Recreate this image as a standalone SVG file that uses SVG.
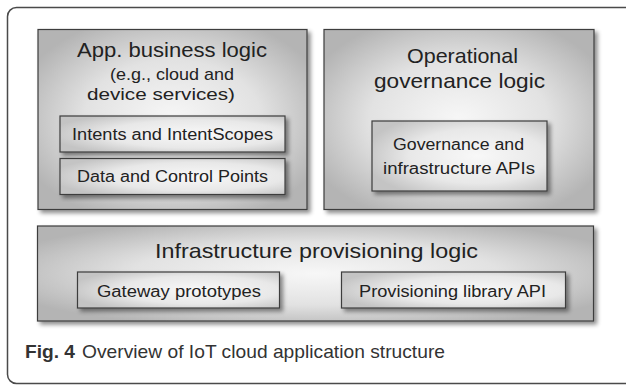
<svg xmlns="http://www.w3.org/2000/svg" width="626" height="385" viewBox="0 0 626 385">
<style>
  .frame{fill:#ffffff;stroke:#4a4a4a;stroke-width:1.5}
  .outer{fill:url(#gOuter);stroke:#3c3c3c;stroke-width:1.2;filter:url(#sh)}
  .inner{fill:url(#gInner);stroke:#3c3c3c;stroke-width:1.2;filter:url(#sh)}
  text{font-family:"Liberation Sans",Arial,sans-serif;fill:#222222}
  .t1{font-size:21px}
  .t2{font-size:17px}
  .t3{font-size:16px}
  .cap{font-family:"Liberation Sans",Arial,sans-serif;font-size:19px;fill:#333333}
</style>
<defs>
  <radialGradient id="gOuter" cx="0.5" cy="0.5" r="0.6">
    <stop offset="0" stop-color="#f7f7f7"/>
    <stop offset="0.55" stop-color="#e2e2e2"/>
    <stop offset="1" stop-color="#b4b4b4"/>
  </radialGradient>
  <radialGradient id="gInner" cx="0.6" cy="0.5" r="0.65">
    <stop offset="0" stop-color="#f8f8f8"/>
    <stop offset="0.6" stop-color="#e8e8e8"/>
    <stop offset="1" stop-color="#c4c4c4"/>
  </radialGradient>
  <filter id="sh" x="-10%" y="-10%" width="125%" height="130%">
    <feDropShadow dx="3" dy="3" stdDeviation="2" flood-color="#000000" flood-opacity="0.45"/>
  </filter>
</defs>
<rect class="frame" x="7.5" y="7.5" width="700" height="376" rx="9"/>
<g id="connectors"></g>
<g id="app">
  <rect class="outer" x="38" y="29.5" width="269" height="180"/>
  <text class="t1" x="77" y="57" textLength="190" lengthAdjust="spacingAndGlyphs">App. business logic</text>
  <text class="t2" x="110" y="80" textLength="124" lengthAdjust="spacingAndGlyphs">(e.g., cloud and</text>
  <text class="t2" x="87" y="100" textLength="148" lengthAdjust="spacingAndGlyphs">device services)</text>
</g>
<g id="intents">
  <rect class="inner" x="60" y="116" width="225" height="36"/>
  <text class="t3" x="72" y="139.5" textLength="201" lengthAdjust="spacingAndGlyphs">Intents and IntentScopes</text>
</g>
<g id="datapoints">
  <rect class="inner" x="60" y="158.5" width="225" height="36"/>
  <text class="t3" x="77" y="182" textLength="191" lengthAdjust="spacingAndGlyphs">Data and Control Points</text>
</g>
<g id="governance">
  <rect class="outer" x="324" y="29.5" width="270" height="180"/>
  <text class="t1" x="407" y="63" textLength="111" lengthAdjust="spacingAndGlyphs">Operational</text>
  <text class="t1" x="374" y="87.5" textLength="171" lengthAdjust="spacingAndGlyphs">governance logic</text>
</g>
<g id="govapis">
  <rect class="inner" x="372" y="121" width="175" height="70"/>
  <text class="t3" x="393" y="150" textLength="131" lengthAdjust="spacingAndGlyphs">Governance and</text>
  <text class="t3" x="383" y="174" textLength="152" lengthAdjust="spacingAndGlyphs">infrastructure APIs</text>
</g>
<g id="infra">
  <rect class="outer" x="37.5" y="226" width="556" height="95"/>
  <text class="t1" x="155" y="258" textLength="323" lengthAdjust="spacingAndGlyphs">Infrastructure provisioning logic</text>
</g>
<g id="gateway">
  <rect class="inner" x="77.5" y="272" width="202" height="36"/>
  <text class="t3" x="97" y="297" textLength="164" lengthAdjust="spacingAndGlyphs">Gateway prototypes</text>
</g>
<g id="provlib">
  <rect class="inner" x="341.5" y="272" width="224" height="36"/>
  <text class="t3" x="359" y="297" textLength="187" lengthAdjust="spacingAndGlyphs">Provisioning library API</text>
</g>
<g id="caption">
  <text class="cap" y="358"><tspan x="25" font-weight="bold" textLength="50" lengthAdjust="spacingAndGlyphs">Fig. 4</tspan> <tspan x="82" textLength="363" lengthAdjust="spacingAndGlyphs">Overview of IoT cloud application structure</tspan></text>
</g>
</svg>
